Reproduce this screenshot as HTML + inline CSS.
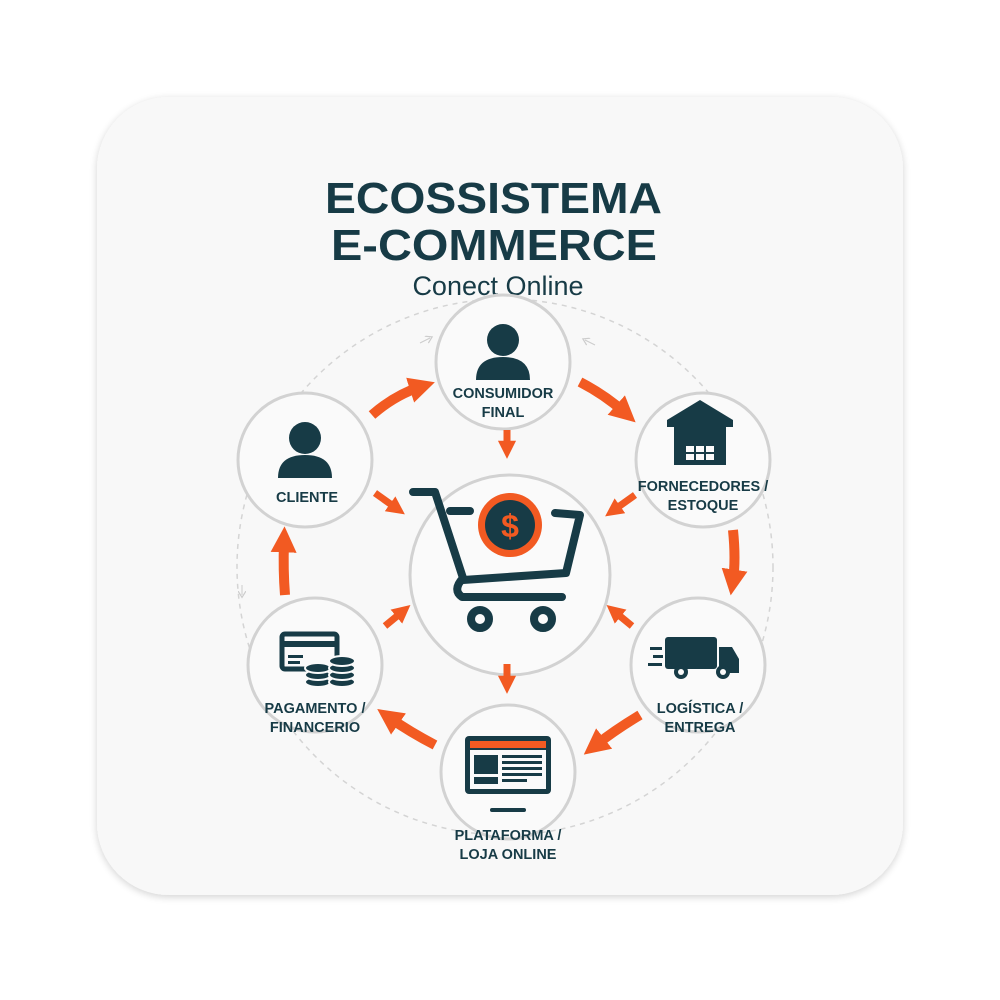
<!DOCTYPE html>
<html><head><meta charset="utf-8"><style>
html,body{margin:0;padding:0;background:#fff;}
svg{display:block;}
</style></head><body>
<svg width="1000" height="1000" viewBox="0 0 1000 1000" xmlns="http://www.w3.org/2000/svg" font-family="Liberation Sans, sans-serif">
<defs>
<filter id="sh" x="-10%" y="-10%" width="120%" height="120%"><feGaussianBlur in="SourceAlpha" stdDeviation="4"/><feOffset dy="2"/><feComponentTransfer><feFuncA type="linear" slope="0.18"/></feComponentTransfer><feMerge><feMergeNode/><feMergeNode in="SourceGraphic"/></feMerge></filter>
<marker id="ah" viewBox="0 0 10 10" refX="4" refY="5" markerWidth="2.6" markerHeight="2.6" orient="auto"><path d="M0,0 L10,5 L0,10 z" fill="#f25a22"/></marker>
<marker id="gh" viewBox="0 0 10 10" refX="5" refY="5" markerWidth="8" markerHeight="8" orient="auto"><path d="M0,0 L8,5 L0,10" fill="none" stroke="#ccc" stroke-width="1.5"/></marker>
</defs>
<rect x="97" y="97" width="806" height="798" rx="72" fill="#f8f8f8" filter="url(#sh)"/>

<g fill="#173b46" font-weight="bold">
<text x="325" y="213" font-size="44" textLength="337" lengthAdjust="spacingAndGlyphs">ECOSSISTEMA</text>
<text x="331" y="260" font-size="44" textLength="326" lengthAdjust="spacingAndGlyphs">E-COMMERCE</text>
</g>
<text x="498" y="295" font-size="27" fill="#173b46" text-anchor="middle">Conect Online</text>

<circle cx="505" cy="567" r="268" fill="none" stroke="#d4d4d4" stroke-width="1.5" stroke-dasharray="5 5"/>
<path d="M420,343 L430,338" stroke="#ccc" fill="none" marker-end="url(#gh)"/>
<path d="M595,345 L585,340" stroke="#ccc" fill="none" marker-end="url(#gh)"/>
<path d="M242,585 L242,595" stroke="#ccc" fill="none" marker-end="url(#gh)"/>

<g fill="#fafafa" stroke="#d2d2d2" stroke-width="3">
<circle cx="503" cy="362" r="67"/>
<circle cx="305" cy="460" r="67"/>
<circle cx="703" cy="460" r="67"/>
<circle cx="315" cy="665" r="67"/>
<circle cx="698" cy="665" r="67"/>
<circle cx="508" cy="772" r="67"/>
<circle cx="510" cy="575" r="100"/>
</g>

<g fill="none" stroke="#f25a22" stroke-width="10" marker-end="url(#ah)">
<path d="M372,415 Q395,395 420,387"/>
<path d="M580,382 Q605,395 624,412"/>
<path d="M733,530 Q736,560 733,580"/>
<path d="M640,715 Q615,730 596,745"/>
<path d="M435,745 Q410,732 390,718"/>
<path d="M285,595 Q283,570 284,542"/>
</g>
<g fill="none" stroke="#f25a22" stroke-width="7" marker-end="url(#ah)">
<path d="M507,430 L507,448"/>
<path d="M507,664 L507,683"/>
<path d="M375,493 L396,508"/>
<path d="M635,495 L614,510"/>
<path d="M385,626 L402,612"/>
<path d="M632,626 L615,612"/>
</g>

<g fill="#173b46">
<circle cx="503" cy="340" r="16"/>
<path d="M476,380 Q476,357 503,357 Q530,357 530,380 Z"/>
<circle cx="305" cy="438" r="16"/>
<path d="M278,478 Q278,455 305,455 Q332,455 332,478 Z"/>
<path d="M667,420 L700,400 L733,420 L733,427 L726,427 L726,465 L674,465 L674,427 L667,427 Z"/>
</g>
<g fill="#fafafa"><rect x="686" y="446" width="8" height="6"/><rect x="696" y="446" width="8" height="6"/><rect x="706" y="446" width="8" height="6"/><rect x="686" y="454" width="8" height="6"/><rect x="696" y="454" width="8" height="6"/><rect x="706" y="454" width="8" height="6"/></g>

<g fill="#173b46">
<rect x="665" y="637" width="52" height="32" rx="3"/>
<path d="M719,647 L732,647 L739,659 L739,673 L719,673 Z"/>
<rect x="650" y="647" width="12" height="3"/><rect x="653" y="655" width="10" height="3"/><rect x="648" y="663" width="14" height="3"/>
<circle cx="681" cy="672" r="7"/><circle cx="723" cy="672" r="7"/>
</g>
<circle cx="681" cy="672" r="3" fill="#fafafa"/><circle cx="723" cy="672" r="3" fill="#fafafa"/>

<rect x="282" y="634" width="55" height="35" rx="3" fill="none" stroke="#173b46" stroke-width="5"/>
<rect x="282" y="641" width="55" height="6" fill="#173b46"/>
<rect x="288" y="655" width="15" height="3" fill="#173b46"/><rect x="288" y="661" width="12" height="3" fill="#173b46"/>
<g fill="#173b46" stroke="#fafafa" stroke-width="2">
<ellipse cx="318" cy="682" rx="13" ry="5"/><ellipse cx="318" cy="675" rx="13" ry="5"/><ellipse cx="318" cy="668" rx="13" ry="5"/>
<ellipse cx="342" cy="682" rx="13" ry="5"/><ellipse cx="342" cy="675" rx="13" ry="5"/><ellipse cx="342" cy="668" rx="13" ry="5"/><ellipse cx="342" cy="661" rx="13" ry="5"/>
</g>

<rect x="465" y="736" width="86" height="58" rx="4" fill="#173b46"/>
<rect x="470" y="741" width="76" height="7" fill="#f25a22"/>
<rect x="470" y="750" width="76" height="39" fill="#fafafa"/>
<rect x="474" y="755" width="24" height="19" fill="#173b46"/><rect x="474" y="777" width="24" height="7" fill="#173b46"/>
<g fill="#173b46"><rect x="502" y="755" width="40" height="3"/><rect x="502" y="761" width="40" height="3"/><rect x="502" y="767" width="40" height="3"/><rect x="502" y="773" width="40" height="3"/><rect x="502" y="779" width="25" height="3"/></g>
<circle cx="508" cy="803" r="2" fill="#fafafa"/>
<rect x="490" y="808" width="36" height="4" rx="2" fill="#173b46"/>

<g fill="none" stroke="#173b46" stroke-width="8" stroke-linecap="round" stroke-linejoin="round">
<path d="M413,492 L435,492 L463,578 Q452,590 462,597 L562,597"/>
<path d="M450,511 L470,511"/>
<path d="M555,513 L580,515 L566,573 L463,580"/>
<circle cx="480" cy="619" r="9"/>
<circle cx="543" cy="619" r="9"/>
</g>
<circle cx="510" cy="525" r="32" fill="#f25a22"/>
<circle cx="510" cy="525" r="25" fill="#173b46"/>
<text x="510" y="537" font-size="32" font-weight="bold" fill="#f25a22" text-anchor="middle">$</text>

<g fill="#173b46" font-weight="bold" font-size="14.5" text-anchor="middle">
<text x="503" y="398">CONSUMIDOR</text><text x="503" y="417">FINAL</text>
<text x="307" y="502">CLIENTE</text>
<text x="703" y="491">FORNECEDORES /</text><text x="703" y="510">ESTOQUE</text>
<text x="315" y="713">PAGAMENTO /</text><text x="315" y="732">FINANCERIO</text>
<text x="700" y="713">LOGÍSTICA /</text><text x="700" y="732">ENTREGA</text>
<text x="508" y="840">PLATAFORMA /</text><text x="508" y="859">LOJA ONLINE</text>
</g>
</svg>
</body></html>
